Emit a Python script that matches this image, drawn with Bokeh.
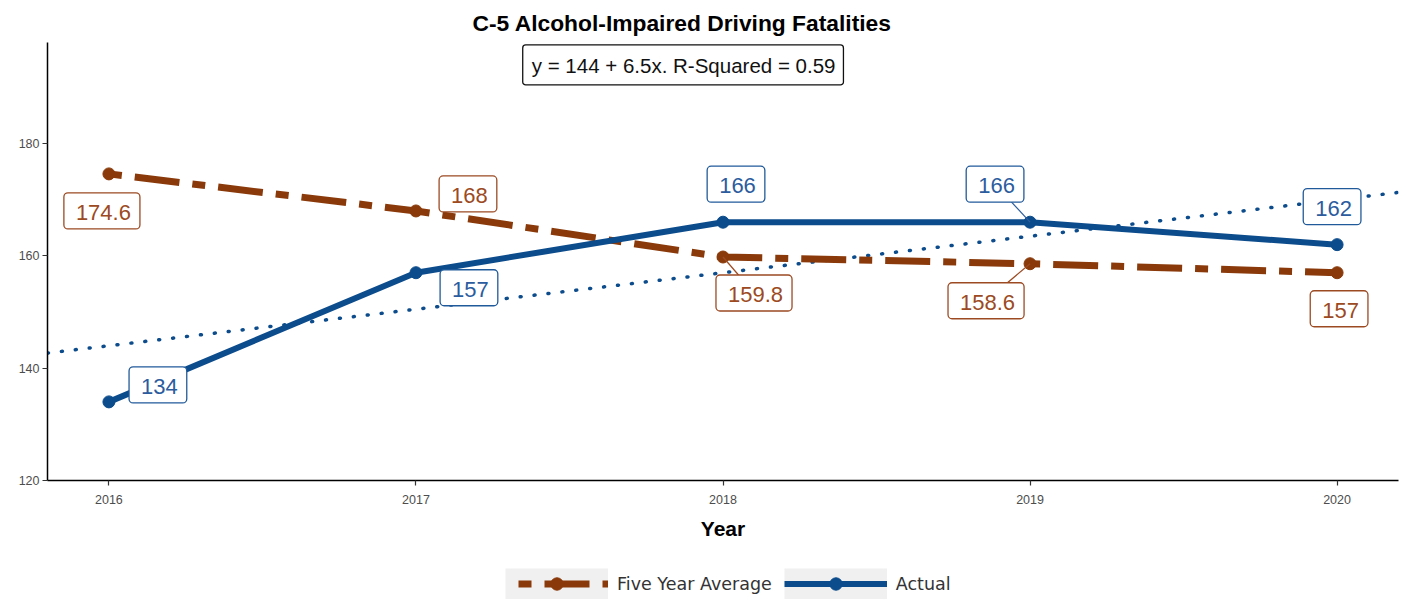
import numpy as np
from bokeh.plotting import figure
from bokeh.layouts import column
from bokeh.models import ColumnDataSource, Range1d, FixedTicker, Legend, LegendItem, Title
from bokeh.core.properties import value
from bokeh.embed import file_html
from bokeh.resources import INLINE

# ---- data ----
years = [2016, 2017, 2018, 2019, 2020]
five_year_avg = [174.6, 168, 159.8, 158.6, 157]
actual = [134, 157, 166, 166, 162]
five_year_labels = ["174.6", "168", "159.8", "158.6", "157"]
actual_labels = ["134", "157", "166", "166", "162"]
y_ticks = [120, 140, 160, 180]
series_names = ["Five Year Average", "Actual"]
title_text = "C-5 Alcohol-Impaired Driving Fatalities"
x_label = "Year"

# ---- label offsets (px, right / up) ----
avg_dx = [-7, 52, 31, -44, 2]
avg_dy = [-37, 17, -36, -37, -36]
act_dx = [49, 53, 13, -35, -5]
act_dy = [17, -15, 38, 38, 38]
avg_seg = [False, False, True, True, False]
act_seg = [False, False, False, True, False]

# ---- style / layout ----
FW, FH = 1351, 438
X0, X1 = 2015.8, 2020.2
Y0, Y1 = 120, 198
BROWN = "#8A3A0A"
BLUE = "#0C4C8C"
BROWN_TXT = "#9C4A22"
BLUE_TXT = "#2C5C9E"
FONT = "Liberation Sans"
AVG_STYLE = dict(line_color=BROWN, line_width=7, line_dash="13 13 45 13")
ACT_STYLE = dict(line_color=BLUE, line_width=6)

# regression of actual on year index
xi = np.array(years) - years[0]
slope, intercept = np.polyfit(xi, np.array(actual, dtype=float), 1)
r2 = np.corrcoef(xi, actual)[0, 1] ** 2
eq_text = f"y = {intercept:.0f} + {slope:.1f}x. R-Squared = {r2:.2f}"
trend_x = [X0, X1]
trend_y = [intercept + slope * (x - years[0]) for x in trend_x]

p = figure(frame_width=FW, frame_height=FH, x_range=Range1d(X0, X1), y_range=Range1d(Y0, Y1),
           output_backend="svg", toolbar_location=None,
           min_border_left=47, min_border_right=5, min_border_top=42, min_border_bottom=70)
p.xgrid.visible = False
p.ygrid.visible = False
p.outline_line_color = None
p.background_fill_color = "white"
p.border_fill_color = "white"

p.title = Title(text=title_text, align="left", text_font=FONT, text_font_size="22.8px",
                text_font_style="bold", text_color="black", offset=425, standoff=13)

# axes
p.xaxis.ticker = FixedTicker(ticks=years)
p.yaxis.ticker = FixedTicker(ticks=y_ticks)
for ax in (p.xaxis, p.yaxis):
    ax.axis_line_color = "black"
    ax.axis_line_width = 1.5
    ax.major_tick_line_color = "#333333"
    ax.major_tick_line_width = 1.2
    ax.major_tick_in = 0
    ax.major_tick_out = 5
    ax.minor_tick_out = 0
    ax.minor_tick_in = 0
    ax.major_label_text_font = FONT
    ax.major_label_text_font_size = "12.5px"
    ax.major_label_text_color = "#4D4D4D"
p.xaxis.major_label_standoff = 9
p.yaxis.major_label_standoff = 3
p.xaxis.axis_label = x_label
p.xaxis.axis_label_text_font = FONT
p.xaxis.axis_label_text_font_size = "21px"
p.xaxis.axis_label_text_font_style = "bold"
p.xaxis.axis_label_text_color = "black"
p.xaxis.axis_label_standoff = 10

# trend line
p.line(trend_x, trend_y, line_color=BLUE, line_width=3.5, line_dash="1 13", line_cap="round")

# series
p.line(years, five_year_avg, **AVG_STYLE)
p.scatter(years, five_year_avg, marker="circle", size=12, color=BROWN)
p.line(years, actual, **ACT_STYLE)
p.scatter(years, actual, marker="circle", size=12, color=BLUE)

# repel segments
xs_per_px = (X1 - X0) / FW
ys_per_px = (Y1 - Y0) / FH
def segs(vals, dx, dy, flags):
    x0, y0, x1, y1 = [], [], [], []
    for yr, v, a, b, f in zip(years, vals, dx, dy, flags):
        if f:
            x0.append(yr); y0.append(v)
            x1.append(yr + a * xs_per_px); y1.append(v + b * ys_per_px)
    return dict(x0=x0, y0=y0, x1=x1, y1=y1)
p.segment(source=ColumnDataSource(segs(five_year_avg, avg_dx, avg_dy, avg_seg)),
          x0="x0", y0="y0", x1="x1", y1="y1", line_color=BROWN_TXT, line_width=1.2)
p.segment(source=ColumnDataSource(segs(actual, act_dx, act_dy, act_seg)),
          x0="x0", y0="y0", x1="x1", y1="y1", line_color=BLUE_TXT, line_width=1.2)

# value labels
def labels(vals, texts, dx, dy, tcol, bcol):
    src = ColumnDataSource(dict(x=years, y=vals, text=texts, dx=dx, dy=[-d for d in dy]))
    p.text(x="x", y="y", text="text", x_offset="dx", y_offset="dy", source=src,
           text_align="center", text_baseline="middle", text_font=value(FONT),
           text_font_size="22px", text_color=tcol, background_fill_color="white",
           border_line_color=bcol, border_line_width=1.3, border_radius=4,
           padding=(12, 9, 12, 9))
labels(five_year_avg, five_year_labels, avg_dx, avg_dy, BROWN_TXT, "#9C4A22")
labels(actual, actual_labels, act_dx, act_dy, BLUE_TXT, "#205A9A")

# equation box
eq_src = ColumnDataSource(dict(x=[2017.87], y=[194.0], text=[eq_text]))
p.text(x="x", y="y", text="text", source=eq_src, text_align="center", text_baseline="middle",
       text_font=value(FONT), text_font_size="20.5px", text_color="#111111",
       background_fill_color="white", border_line_color="#111111", border_line_width=1.3,
       border_radius=3, padding=(9, 8, 9, 8))

# ---- legend strip (separate figure, proxies carry the series styles) ----
LW, LH = 1403, 56
q = figure(frame_width=LW, frame_height=LH, x_range=Range1d(0, 1), y_range=Range1d(0, 1),
           output_backend="svg", toolbar_location=None, min_border=0)
q.axis.visible = False
q.grid.visible = False
q.outline_line_color = None
q.border_fill_color = "white"
nan = [np.nan]
g1 = q.line(x=nan, y=nan, line_color="#F0F0F0", line_width=31)
a1 = q.line(x=nan, y=nan, line_dash_offset=71, **AVG_STYLE)
a2 = q.scatter(x=nan, y=nan, marker="circle", size=12, color=BROWN)
g2 = q.line(x=nan, y=nan, line_color="#F0F0F0", line_width=31)
b1 = q.line(x=nan, y=nan, **ACT_STYLE)
b2 = q.scatter(x=nan, y=nan, marker="circle", size=12, color=BLUE)
legend = Legend(items=[LegendItem(label=series_names[0], renderers=[g1, a1, a2]),
                       LegendItem(label=series_names[1], renderers=[g2, b1, b2])],
                orientation="horizontal", location=(505, 7), glyph_width=103, glyph_height=31,
                label_standoff=9, spacing=12, padding=0, margin=0,
                border_line_color=None, background_fill_alpha=0,
                label_text_font="DejaVu Sans", label_text_font_size="17.5px",
                label_text_color="#333333", label_text_baseline="middle")
q.add_layout(legend, "center")

layout = column(p, q, spacing=0)
open("out.html", "w").write(file_html(layout, INLINE))
